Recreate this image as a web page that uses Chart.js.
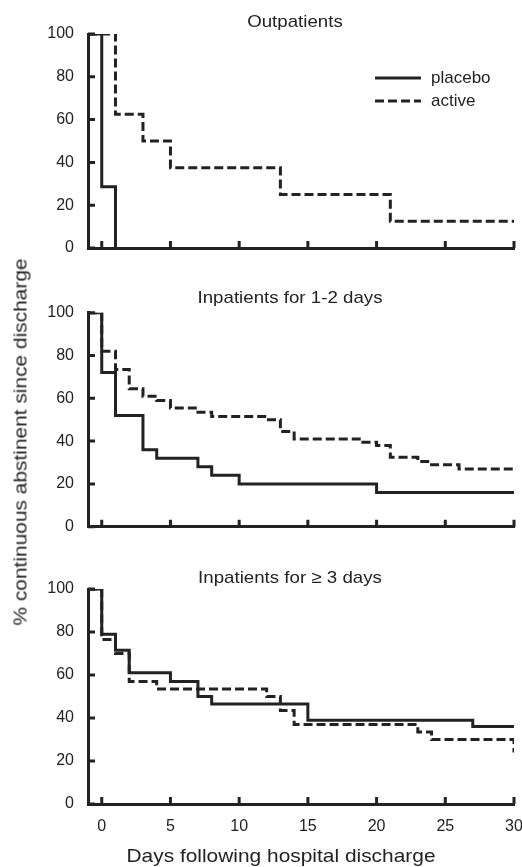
<!DOCTYPE html>
<html>
<head>
<meta charset="utf-8">
<script src="https://cdn.jsdelivr.net/npm/chart.js@4.4.0/dist/chart.umd.min.js"></script>
<style>
  body { margin: 0; background: #fff; width: 522px; height: 867px; position: relative; overflow: hidden;
         font-family: "Liberation Sans", Arial, sans-serif; color: #222; }
  .panel { position: absolute; left: 0; width: 522px; }
  .lbl { position: absolute; white-space: nowrap; line-height: 1; }
</style>
</head>
<body>

<div class="panel" style="top:0;height:262px"><canvas id="outChart" width="522" height="262"></canvas></div>
<div class="panel" style="top:262px;height:280px"><canvas id="shortChart" width="522" height="280"></canvas></div>
<div class="panel" style="top:542px;height:325px"><canvas id="longChart" width="522" height="325"></canvas></div>

<div class="lbl" style="left:295px;top:21px;font-size:17px;transform:translate(-50%,-50%) scaleX(1.1)">Outpatients</div>
<div class="lbl" style="left:290px;top:297px;font-size:17px;transform:translate(-50%,-50%) scaleX(1.1)">Inpatients for 1-2 days</div>
<div class="lbl" style="left:290px;top:577px;font-size:17px;transform:translate(-50%,-50%) scaleX(1.1)">Inpatients for ≥ 3 days</div>
<div class="lbl" style="left:281px;top:855px;font-size:19px;transform:translate(-50%,-50%) scaleX(1.1)">Days following hospital discharge</div>
<div class="lbl" style="left:20px;top:442px;font-size:19px;transform:translate(-50%,-50%) rotate(-90deg) scaleX(1.1)">% continuous abstinent since discharge</div>

<script>
// tick values
const xTickVals = [0, 5, 10, 15, 20, 25, 30];
const yTickVals = [0, 20, 40, 60, 80, 100];

// Outpatients
const outPlaceboDays = [-1, 0, 1];
const outPlaceboPct  = [100, 28.6, 0];
const outActiveDays  = [-1, 1, 3, 5, 13, 21, 30];
const outActivePct   = [100, 62.5, 50, 37.5, 25, 12.5, 12.5];

// Inpatients for 1-2 days
const shortPlaceboDays = [-1, 0, 1, 3, 4, 7, 8, 10, 20, 30];
const shortPlaceboPct  = [100, 72, 52, 36, 32, 28, 24, 20, 16, 16];
const shortActiveDays  = [-1, 0, 1, 2, 3, 4, 5, 7, 8, 12, 13, 14, 19, 20, 21, 23, 24, 26, 30];
const shortActivePct   = [100, 82, 73.5, 64.5, 61, 59, 55.5, 53.5, 51.5, 50, 44.5, 41, 39.5, 38, 32.5, 30.5, 29, 27, 27];

// Inpatients for >= 3 days
const longPlaceboDays = [-1, 0, 1, 2, 5, 7, 8, 15, 27, 30];
const longPlaceboPct  = [100, 79, 71.5, 61, 57, 50, 46.5, 39, 36, 36];
const longActiveDays  = [-1, 0, 1, 2, 4, 12, 13, 14, 23, 24, 30];
const longActivePct   = [100, 76.5, 70, 57, 53.5, 50, 43.5, 37, 33.5, 30, 24];

const ink = '#222';
Chart.defaults.font.family = '"Liberation Sans", Arial, sans-serif';
Chart.defaults.font.size = 16;
Chart.defaults.color = ink;

// tick marks pointing into the plot
const insideTicks = {
    id: 'insideTicks',
    afterDatasetsDraw(chart) {
        const {ctx, chartArea, scales} = chart;
        ctx.save();
        ctx.strokeStyle = ink;
        ctx.lineWidth = 3;
        ctx.beginPath();
        scales.x.ticks.forEach(t => {
            const px = scales.x.getPixelForValue(t.value);
            ctx.moveTo(px, chartArea.bottom);
            ctx.lineTo(px, chartArea.bottom - 7);
        });
        scales.y.ticks.forEach(t => {
            const py = scales.y.getPixelForValue(t.value);
            ctx.moveTo(chartArea.left, py);
            ctx.lineTo(chartArea.left + 7, py);
        });
        ctx.stroke();
        ctx.restore();
    }
};

// legend in the first panel
const lineLegend = {
    id: 'lineLegend',
    afterDraw(chart) {
        const ctx = chart.ctx;
        const items = chart.data.datasets;
        ctx.save();
        ctx.strokeStyle = ink;
        ctx.fillStyle = ink;
        ctx.lineWidth = 3;
        ctx.font = '17px "Liberation Sans", Arial, sans-serif';
        ctx.textBaseline = 'middle';
        items.forEach((ds, i) => {
            const y = 78 + i * 23;
            ctx.setLineDash(ds.borderDash || []);
            ctx.beginPath();
            ctx.moveTo(375, y);
            ctx.lineTo(421, y);
            ctx.stroke();
            ctx.setLineDash([]);
            ctx.fillText(ds.label, 431, y);
        });
        ctx.restore();
    }
};

function toPoints(days, pct) {
    return days.map((d, i) => ({x: d, y: pct[i]}));
}

function makePanel(id, pDays, pPct, aDays, aPct, opts) {
    const ctx = document.getElementById(id).getContext('2d');
    return new Chart(ctx, {
        type: 'line',
        data: {
            datasets: [{
                label: 'placebo',
                data: toPoints(pDays, pPct),
                borderColor: ink,
                borderWidth: 3,
                stepped: true,
                pointRadius: 0,
                fill: false,
                borderJoinStyle: 'miter'
            }, {
                label: 'active',
                data: toPoints(aDays, aPct),
                borderColor: ink,
                borderWidth: 3,
                borderDash: [9, 4],
                stepped: true,
                pointRadius: 0,
                fill: false,
                borderJoinStyle: 'miter'
            }]
        },
        options: {
            responsive: false,
            animation: false,
            events: [],
            layout: {
                autoPadding: false,
                padding: {top: opts.top, right: 8, left: 0, bottom: 0}
            },
            plugins: {
                legend: {display: false},
                tooltip: {enabled: false}
            },
            scales: {
                x: {
                    type: 'linear',
                    min: -1,
                    max: 30,
                    afterBuildTicks: s => { s.ticks = xTickVals.map(v => ({value: v})); },
                    afterFit: s => { s.height = opts.xHeight; s.paddingLeft = 0; s.paddingRight = 0; },
                    grid: {display: false, drawTicks: false, tickLength: 0},
                    border: {display: true, color: ink, width: 3},
                    ticks: {display: opts.showX, padding: 13, maxRotation: 0, color: ink}
                },
                y: {
                    min: 0,
                    max: 100,
                    afterBuildTicks: s => { s.ticks = yTickVals.map(v => ({value: v})); },
                    afterFit: s => { s.width = 88; s.paddingTop = 0; s.paddingBottom = 0; },
                    grid: {display: false, drawTicks: false, tickLength: 0},
                    border: {display: true, color: ink, width: 3},
                    ticks: {padding: 14, color: ink}
                }
            }
        },
        plugins: opts.legend ? [insideTicks, lineLegend] : [insideTicks]
    });
}

makePanel('outChart', outPlaceboDays, outPlaceboPct, outActiveDays, outActivePct,
    {top: 34, xHeight: 14, showX: false, legend: true});
makePanel('shortChart', shortPlaceboDays, shortPlaceboPct, shortActiveDays, shortActivePct,
    {top: 50.7, xHeight: 15.3, showX: false, legend: false});
makePanel('longChart', longPlaceboDays, longPlaceboPct, longActiveDays, longActivePct,
    {top: 47, xHeight: 63, showX: true, legend: false});
</script>
</body>
</html>
